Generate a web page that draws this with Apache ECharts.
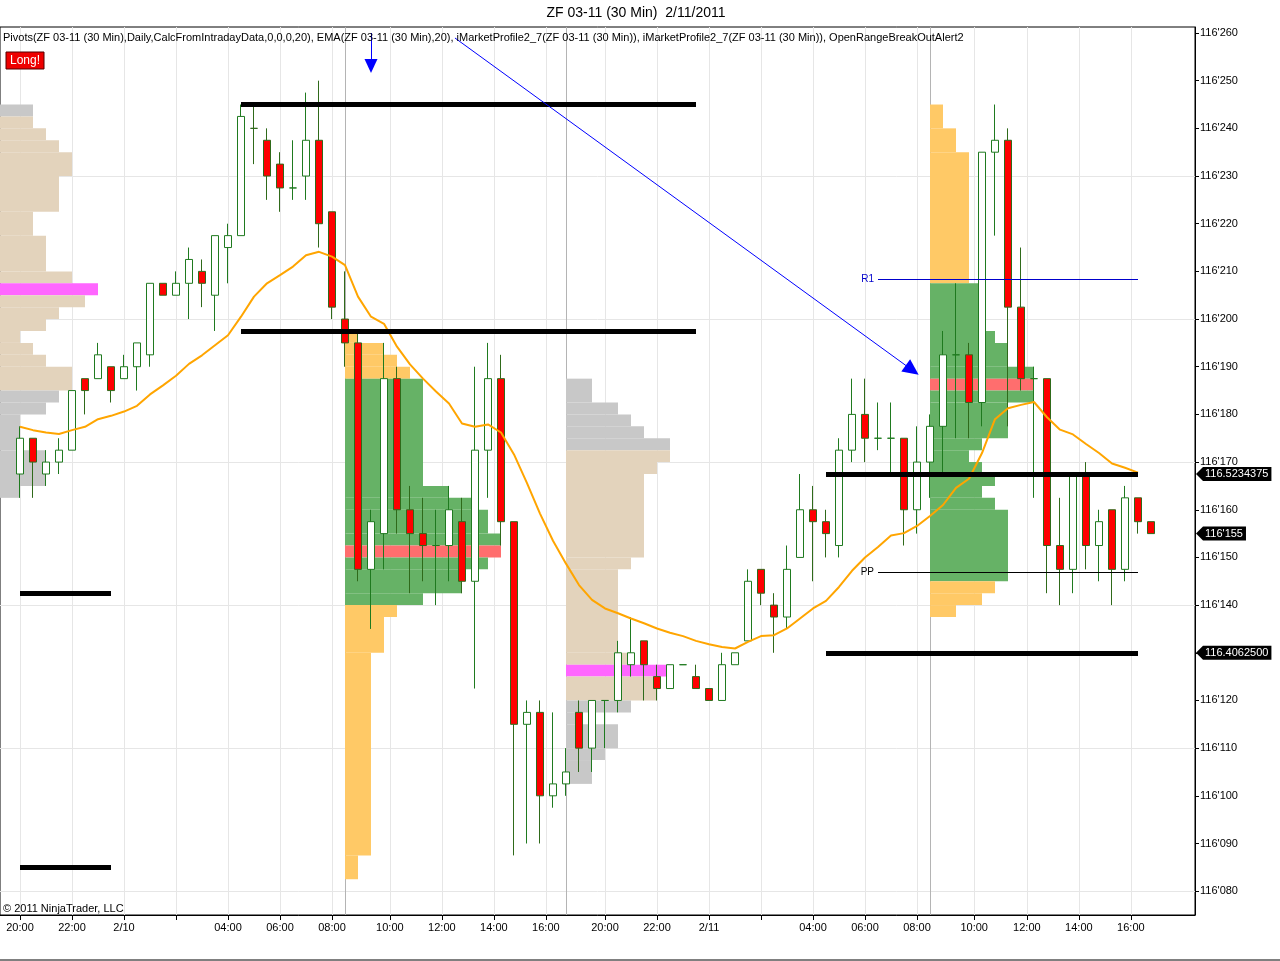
<!DOCTYPE html>
<html>
<head>
<meta charset="utf-8">
<title>ZF 03-11 (30 Min) 2/11/2011</title>
<script src="https://cdn.jsdelivr.net/npm/echarts@6/dist/echarts.min.js"></script>
<style>
html, body { margin: 0; padding: 0; background: #fff; }
#chart { width: 1280px; height: 961px; }
</style>
</head>
<body>
<div id="chart"></div>
<script>
// prices are the 32nds part of 116'xxx, e.g. 167.5 = 116'167(5)
// one candle per 30 min bar: [open, close, low, high]
var bars = [
    [167.5,175,162.5,177.5], [175,170,162.5,175], [167.5,170,165,172.5], [170,172.5,167.5,175],
    [172.5,185,172.5,185], [187.5,185,180,187.5], [187.5,192.5,187.5,195], [190,185,182.5,190],
    [187.5,190,187.5,192.5], [190,195,185,195], [192.5,207.5,190,207.5], [207.5,205,205,207.5],
    [205,207.5,205,210], [207.5,212.5,200,215], [210,207.5,202.5,212.5], [205,217.5,197.5,217.5],
    [215,217.5,207.5,220], [217.5,242.5,217.5,245], [240,240,232.5,245], [237.5,230,225,240],
    [232.5,227.5,222.5,235], [227.5,227.5,225,237.5], [230,237.5,225,247.5], [237.5,220,215,250],
    [222.5,202.5,200,222.5], [200,195,190,210], [195,147.5,145,197.5], [147.5,157.5,135,160],
    [155,187.5,147.5,195], [187.5,160,155,190], [160,155,142.5,165], [155,152.5,145,162.5],
    [152.5,152.5,140,160], [152.5,160,145,165], [157.5,145,142.5,162.5], [145,172.5,122.5,190],
    [172.5,187.5,162.5,195], [187.5,157.5,152.5,192.5], [157.5,115,87.5,157.5], [115,117.5,90,120],
    [117.5,100,90,120], [100,102.5,97.5,117.5], [102.5,105,100,110], [117.5,110,105,120],
    [110,120,105,120], [120,120,110,120], [120,130,117.5,132.5], [127.5,130,125,137.5],
    [132.5,127.5,120,132.5], [125,122.5,120,127.5], [122.5,127.5,122.5,127.5], [127.5,127.5,127.5,127.5],
    [125,122.5,122.5,127.5], [122.5,120,120,122.5], [120,127.5,120,130], [127.5,130,127.5,130],
    [132.5,145,132.5,147.5], [147.5,142.5,140,147.5], [140,137.5,130,142.5], [137.5,147.5,135,152.5],
    [150,160,150,167.5], [160,157.5,145,165], [157.5,155,150,160], [152.5,172.5,150,175],
    [172.5,180,170,187.5], [180,175,170,187.5], [175,175,172.5,182.5], [175,175,167.5,182.5],
    [175,160,152.5,175], [160,170,155,177.5], [170,177.5,162.5,180], [177.5,192.5,167.5,197.5],
    [192.5,192.5,175,207.5], [192.5,182.5,175,195], [182.5,235,177.5,235], [235,237.5,217.5,245],
    [237.5,202.5,177.5,240], [202.5,187.5,185,215], [187.5,187.5,162.5,190], [187.5,152.5,142.5,187.5],
    [152.5,147.5,140,162.5], [147.5,167.5,142.5,167.5], [167.5,152.5,147.5,170], [152.5,157.5,145,160],
    [160,147.5,140,160], [147.5,162.5,145,165], [162.5,157.5,155,162.5], [157.5,155,155,157.5]
];

// EMA(20)
var ema = [
    177.4,176.7,176.2,175.9,176.7,177.4,179.0,179.7,180.6,181.8,
    184.2,186.1,188.1,190.6,192.4,194.5,196.6,200.5,204.7,207.5,
    209.2,211.0,213.4,214.1,213.1,211.3,204.7,200.5,199.0,194.2,
    190.5,187.5,184.8,182.3,178.1,177.4,177.9,176.2,171.6,165.6,
    159.2,153.5,148.7,144.2,141.1,139.3,138.3,137.2,136.2,135.1,
    134.2,133.5,132.5,131.8,131.2,130.9,132.3,133.5,133.7,135.1,
    137.2,139.3,140.9,143.8,147.2,150.0,152.2,154.6,155.1,156.6,
    158.7,161.0,164.6,166.5,171.9,179.0,181.3,182.0,182.6,179.4,
    176.8,175.8,173.8,171.9,169.7,168.8,167.8
];

// time axis ticks (bar index) and their labels
var timeTicks = [0, 4, 8, 12, 16, 20, 24, 28.45, 32.45, 36.45, 40.45,
                 45, 49, 53, 57, 61, 65, 69, 73.4, 77.45, 81.45, 85.45];
var timeLabels = ["20:00", "22:00", "2/10", "", "04:00", "06:00", "08:00", "10:00", "12:00", "14:00", "16:00",
                  "20:00", "22:00", "2/11", "", "04:00", "06:00", "08:00", "10:00", "12:00", "14:00", "16:00"];
var sessionStarts = [25, 42, 70];

var priceTicks = [80, 90, 100, 110, 120, 130, 140, 150, 160, 170, 180, 190, 200, 210, 220, 230, 240, 250, 260];
var gridPrices = [80, 110, 140, 170, 200, 230];

// market profiles: [low, high, TPO count, kind]  kind 0 = outside value area, 1 = value area, 2 = POC
var profileNight1 = [
    [242.5,245,3,0], [240,242.5,3,1], [237.5,240,4,1], [235,237.5,5,1], [230,235,6,1],
    [222.5,230,5,1], [217.5,222.5,3,1], [210,217.5,4,1], [207.5,210,6,1], [205,207.5,8,2],
    [202.5,205,7,1], [200,202.5,5,1], [197.5,200,4,1], [195,197.5,2,1], [192.5,195,3,1],
    [190,192.5,4,1], [185,190,6,1], [182.5,185,5,0], [180,182.5,4,0], [172.5,180,2,0],
    [165,172.5,4,0], [162.5,165,2,0]
];
var profileDay1 = [
    [195,197.5,1,0], [192.5,195,3,0], [190,192.5,4,0], [187.5,190,5,0], [165,187.5,6,1],
    [162.5,165,8,1], [160,162.5,10,1], [155,160,11,1], [152.5,155,12,1], [150,152.5,12,2],
    [147.5,150,11,1], [142.5,147.5,9,1], [140,142.5,6,1], [137.5,140,4,0], [130,137.5,3,0],
    [87.5,130,2,0], [82.5,87.5,1,0]
];
var profileNight2 = [
    [182.5,187.5,2,0], [180,182.5,4,0], [177.5,180,5,0], [175,177.5,6,0], [172.5,175,8,0],
    [170,172.5,8,1], [167.5,170,7,1], [150,167.5,6,1], [147.5,150,5,1], [130,147.5,4,1],
    [127.5,130,5,1], [125,127.5,8,2], [120,125,7,1], [117.5,120,5,0], [115,117.5,1,0],
    [110,115,4,0], [107.5,110,3,0], [102.5,107.5,2,0]
];
var profileDay2 = [
    [240,245,1,0], [235,240,2,0], [207.5,235,3,0], [197.5,207.5,4,1], [195,197.5,5,1],
    [190,195,6,1], [187.5,190,8,1], [185,187.5,8,2], [182.5,185,8,1], [175,182.5,6,1],
    [172.5,175,4,1], [170,172.5,3,1], [167.5,170,4,1], [165,167.5,5,1], [162.5,165,4,1],
    [160,162.5,5,1], [145,160,6,1], [142.5,145,5,0], [140,142.5,4,0], [137.5,140,2,0]
];
var profileStarts = [-2, 25, 42, 70];

// opening range lines: [from bar, to bar, price]
var rangeLines = [[0, 7, 142.5], [0, 7, 85], [17, 52, 245], [17, 52, 197.5], [62, 86, 167.5], [62, 86, 130]];
var pivotR1 = 208.4;
var pivotPP = 146.8;
var pivotSpan = [66, 86];

var priceMarkers = [[167.5, "116.5234375"], [155, "116'155"], [130, "116.4062500"]];

var FONT = "'Liberation Sans', Arial, sans-serif";
var chart = echarts.init(document.getElementById("chart"));

var profilePalettes = [
    ["#c8c8c8", "#e3d3bc", "#ff66ff"],
    ["#ffc966", "#66b266", "#ff6e6e"]
];
var profileList = [profileNight1, profileDay1, profileNight2, profileDay2];
var profileRows = [];
profileList.forEach(function (p, k) {
    p.forEach(function (r) {
        profileRows.push([profileStarts[k], r[0], r[1], r[2], r[3], k % 2]);
    });
});

function renderProfile(params, api) {
    var start = api.value(0);
    var bw = api.size([1, 0])[0];
    var top = api.coord([start, api.value(2)]);
    var bot = api.coord([start, api.value(1)]);
    var x0 = top[0];
    var x1 = x0 + api.value(3) * bw;
    x0 = Math.max(x0, params.coordSys.x);
    return {
        type: "rect",
        shape: { x: x0, y: top[1], width: x1 - x0, height: bot[1] - top[1] },
        style: { fill: profilePalettes[api.value(5)][api.value(4)] }
    };
}

function timeLabel(v) {
    for (var i = 0; i < timeTicks.length; i++) {
        if (Math.abs(timeTicks[i] - v) < 0.01) return timeLabels[i];
    }
    return "";
}

var gridLineData = gridPrices.map(function (v) { return { yAxis: v }; })
    .concat(timeTicks.map(function (t) { return { xAxis: t }; }));

var levelData = rangeLines.map(function (r) {
    return [{ coord: [r[0], r[2]] }, { coord: [r[1], r[2]] }];
});
levelData.push([
    { coord: [pivotSpan[0], pivotR1], lineStyle: { color: "#0000cc", width: 1 },
      label: { show: true, position: "start", formatter: "R1", color: "#0000cc", fontSize: 10, fontFamily: FONT, distance: 4 } },
    { coord: [pivotSpan[1], pivotR1] }
]);
levelData.push([
    { coord: [pivotSpan[0], pivotPP], lineStyle: { color: "#000", width: 1 },
      label: { show: true, position: "start", formatter: "PP", color: "#000", fontSize: 10, fontFamily: FONT, distance: 4 } },
    { coord: [pivotSpan[1], pivotPP] }
]);
// drawn arrows
levelData.push([
    { coord: [27, 260], symbol: "none", lineStyle: { color: "#0000ff", width: 1 } },
    { coord: [27, 253.1], symbol: "triangle", symbolSize: [13, 14] }
]);
levelData.push([
    { coord: [33.46, 258.95], symbol: "none", lineStyle: { color: "#0000ff", width: 1 } },
    { coord: [68.63, 189.3], symbol: "triangle", symbolSize: [15, 16] }
]);

var option = {
    animation: false,
    backgroundColor: "#fff",
    grid: {
        left: 0, top: 27, right: 85, bottom: 46,
        show: true, borderColor: "#000", borderWidth: 1,
        outerBoundsMode: "none"
    },
    xAxis: {
        type: "value",
        min: -20 / 13,
        max: 1175 / 13,
        axisLine: { show: true, onZero: false, lineStyle: { color: "#000" } },
        axisTick: { show: true, customValues: timeTicks, length: 5, lineStyle: { color: "#000" } },
        axisLabel: {
            customValues: timeTicks, formatter: timeLabel,
            color: "#000", fontSize: 11, fontFamily: FONT, margin: 7
        },
        splitLine: { show: false }
    },
    yAxis: {
        type: "value",
        position: "right",
        min: 75,
        max: 261.26,
        interval: 5,
        axisLine: { show: true, onZero: false, lineStyle: { color: "#000" } },
        axisTick: { show: true, customValues: priceTicks, length: 4, lineStyle: { color: "#000" } },
        axisLabel: {
            customValues: priceTicks,
            formatter: function (v) {
                if (Math.abs(v % 10) > 0.01) return "";
                return "116'" + ("00" + Math.round(v)).slice(-3);
            },
            color: "#000", fontSize: 11, fontFamily: FONT, margin: 5
        },
        splitLine: { show: false }
    },
    series: [
        {
            name: "grid", type: "line", data: [], silent: true,
            markLine: {
                z: 1, silent: true, symbol: "none", label: { show: false },
                lineStyle: { color: "#e6e6e6", width: 1, type: "solid" },
                data: gridLineData
            }
        },
        {
            name: "sessions", type: "line", data: [], silent: true,
            markLine: {
                z: 1, silent: true, symbol: "none", label: { show: false },
                lineStyle: { color: "#b4b4b4", width: 1, type: "solid" },
                data: sessionStarts.map(function (s) { return { xAxis: s }; })
            }
        },
        {
            name: "profile", type: "custom", z: 2, silent: true,
            renderItem: renderProfile,
            encode: { x: 0, y: [1, 2] },
            data: profileRows
        },
        {
            name: "ZF 03-11", type: "candlestick", z: 3,
            barWidth: 7,
            encode: { x: 0, y: [1, 2, 3, 4] },
            itemStyle: {
                color: "#ffffff", color0: "#ff0000",
                borderColor: "#1f7a1f", borderColor0: "#2f6a1a", borderWidth: 1
            },
            data: bars.map(function (b, i) { return [i, b[0], b[1], b[2], b[3]]; })
        },
        {
            name: "EMA", type: "line", z: 4, showSymbol: false, silent: true,
            lineStyle: { color: "#ffa500", width: 2 },
            itemStyle: { color: "#ffa500" },
            data: ema.map(function (v, i) { return [i, v]; })
        },
        {
            name: "levels", type: "line", data: [], silent: true,
            markLine: {
                z: 5, silent: true, symbol: "none", label: { show: false },
                lineStyle: { color: "#000", width: 5, type: "solid" },
                data: levelData
            }
        }
    ]
};
chart.setOption(option);

var graphics = [
    { type: "text", x: 636, y: 13, z: 100,
      style: { text: "ZF 03-11 (30 Min)  2/11/2011", font: "14px " + FONT, fill: "#000", align: "center", verticalAlign: "middle" } },
    { type: "text", x: 3, y: 38, z: 100,
      style: { text: "Pivots(ZF 03-11 (30 Min),Daily,CalcFromIntradayData,0,0,0,20), EMA(ZF 03-11 (30 Min),20), iMarketProfile2_7(ZF 03-11 (30 Min)), iMarketProfile2_7(ZF 03-11 (30 Min)), OpenRangeBreakOutAlert2",
               font: "11px " + FONT, fill: "#000", align: "left", verticalAlign: "middle" } },
    { type: "rect", shape: { x: 6, y: 52, width: 38, height: 17 }, z: 100,
      style: { fill: "#ee0000", stroke: "#550000", lineWidth: 1 } },
    { type: "text", x: 25, y: 61, z: 101,
      style: { text: "Long!", font: "12px " + FONT, fill: "#fff", align: "center", verticalAlign: "middle" } },
    { type: "text", x: 3, y: 909, z: 100,
      style: { text: "\u00a9 2011 NinjaTrader, LLC", font: "11px " + FONT, fill: "#000", align: "left", verticalAlign: "middle" } },
    { type: "line", shape: { x1: 0, y1: 960, x2: 1280, y2: 960 }, z: 100, style: { stroke: "#000", lineWidth: 1 } }
];
priceMarkers.forEach(function (m) {
    var y = chart.convertToPixel({ yAxisIndex: 0 }, m[0]);
    graphics.push({
        type: "polygon", z: 100,
        shape: { points: [[1196, y], [1203, y - 7], [1203, y + 7]] },
        style: { fill: "#000" }
    });
    graphics.push({
        type: "text", x: 1203, y: y, z: 101,
        style: { text: m[1], font: "11px " + FONT, fill: "#fff", backgroundColor: "#000",
                 padding: [2, 3, 1, 2], verticalAlign: "middle", align: "left" }
    });
});
chart.setOption({ graphic: graphics });

window.onresize = function () {
    chart.resize();
};
</script>
</body>
</html>
